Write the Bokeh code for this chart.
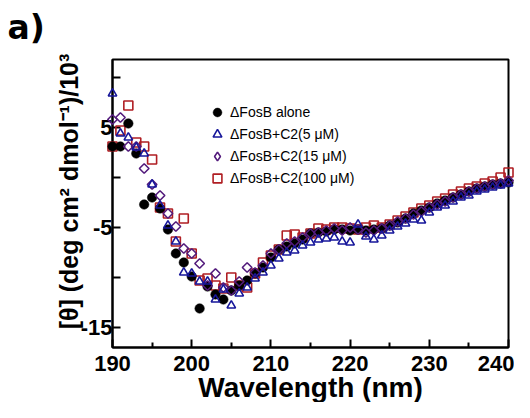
import numpy as np
from bokeh.plotting import figure
from bokeh.models import FixedTicker, Legend, LegendItem, Range1d
from bokeh.core.properties import value
from bokeh.embed import file_html
from bokeh.resources import INLINE

# ---- data (mean residue ellipticity, x10^3) ----
wavelength = list(range(190, 241))

fosb_alone = [3.1, 3.1, 5.4, 2.4, -2.7, -2.0, -3.1, -5.2, -7.6, -8.5,
              -9.9, -13.1, -10.9, -11.7, -12.2, -11.3, -10.8, -10.3, -9.6, -9.0,
              -8.0, -7.2, -6.9, -6.6, -6.2, -5.6, -5.5, -5.4, -5.2, -5.2,
              -5.3, -5.2, -5.3, -5.2, -5.1, -4.8, -4.5, -4.1, -3.6, -3.3,
              -3.0, -2.6, -2.3, -2.0, -1.7, -1.4, -1.1, -0.9, -0.7, -0.6, -0.5]

c2_5uM = [8.4, 4.4, 4.0, 3.0, 2.4, -0.7, -2.8, -4.8, -6.4, -9.5,
          -9.6, -10.4, -10.4, -12.2, -11.2, -12.8, -11.6, -11.0, -10.1, -9.5,
          -8.8, -8.1, -7.5, -7.3, -6.8, -6.5, -6.2, -6.1, -6.0, -6.4,
          -6.5, -4.7, -5.9, -6.2, -5.8, -5.3, -4.9, -4.6, -4.2, -4.3,
          -3.5, -3.0, -2.8, -2.4, -2.0, -1.8, -1.4, -1.2, -1.0, -0.8, -0.6]

c2_15uM = [5.8, 6.0, 3.1, 3.1, 0.9, -0.7, -1.8, -3.6, -4.9, -7.1,
           -7.6, -8.6, -10.8, -9.6, -11.0, -11.3, -10.4, -9.0, -9.5, -8.8,
           -7.6, -7.2, -6.6, -6.4, -6.0, -5.6, -5.5, -5.3, -5.1, -5.3,
           -5.0, -5.2, -5.5, -5.3, -5.1, -4.8, -4.4, -4.1, -3.7, -3.4,
           -3.0, -2.7, -2.4, -2.0, -1.7, -1.4, -1.1, -0.9, -0.7, -0.6, -0.3]

c2_100uM = [3.1, 4.7, 7.2, 3.5, 3.1, 1.8, -3.0, -3.6, -6.4, -4.1,
            -7.6, -10.3, -10.1, -10.8, -11.1, -10.0, -10.8, -11.0, -9.6, -8.5,
            -7.8, -7.2, -5.8, -5.7, -6.0, -5.6, -5.1, -5.2, -5.0, -5.0,
            -5.1, -5.2, -5.0, -4.8, -5.0, -4.7, -4.3, -3.9, -3.5, -3.1,
            -2.8, -2.4, -2.1, -1.7, -1.4, -1.1, -0.9, -0.6, -0.4, 0.0, 0.5]

series_labels = ["\u0394FosB alone", "\u0394FosB+C2(5 \u03bcM)",
                 "\u0394FosB+C2(15 \u03bcM)", "\u0394FosB+C2(100 \u03bcM)"]

x_ticks = [190, 200, 210, 220, 230, 240]
x_minor_ticks = [195, 205, 215, 225, 235]
y_ticks = [-15, -5, 5]
y_minor_ticks = [-10, 0, 10]
y_tick_labels = {-15: "-15", -5: "-5", 5: "5"}

x_title = "Wavelength (nm)"
y_title = "[\u03b8] (deg cm\u00b2 dmol\u207b\u00b9)/10\u00b3"
panel_tag = "a)"

BLUE = "#16169a"
PURPLE = "#531b7c"
RED = "#b01e23"
FONT = "Liberation Sans"

p = figure(width=514, height=402,
           x_range=Range1d(190, 240), y_range=Range1d(-17, 11.8),
           output_backend="svg", toolbar_location=None,
           min_border_left=112, min_border_right=6,
           min_border_top=59, min_border_bottom=55)
p.title.visible = False
p.grid.visible = False
p.background_fill_color = "white"
p.border_fill_color = "white"
p.outline_line_color = "black"
p.outline_line_width = 2
p.outline_line_alpha = 1

p.xaxis.ticker = FixedTicker(ticks=x_ticks, minor_ticks=x_minor_ticks)
p.yaxis.ticker = FixedTicker(ticks=y_ticks, minor_ticks=y_minor_ticks)
p.yaxis.major_label_overrides = y_tick_labels

for ax in (p.xaxis[0], p.yaxis[0]):
    ax.axis_line_width = 2
    ax.axis_line_color = "black"
    ax.major_tick_line_width = 2
    ax.minor_tick_line_width = 2
    ax.major_tick_line_color = "black"
    ax.minor_tick_line_color = "black"
    ax.major_tick_out = 0
    ax.minor_tick_out = 0
    ax.major_label_text_font = FONT
    ax.major_label_text_font_size = "22px"
    ax.major_label_text_font_style = "bold"
    ax.major_label_text_color = "black"

p.xaxis.major_tick_in = 8
p.xaxis.minor_tick_in = 5
p.yaxis.major_tick_in = 8
p.yaxis.minor_tick_in = 8
p.xaxis.major_label_standoff = 8
p.yaxis.major_label_standoff = 0

r_red = p.scatter(wavelength, c2_100uM, marker="square", size=9,
                  fill_color=None, line_color=RED, line_width=1.6, level="overlay")
r_black = p.scatter(wavelength, fosb_alone, marker="circle", size=9.5,
                    fill_color="black", line_color="black", line_width=0.5, level="overlay")
r_purple = p.scatter(wavelength, c2_15uM, marker="square", angle=np.pi / 4, size=6.8,
                     fill_color=None, line_color=PURPLE, line_width=1.6, level="overlay")
r_blue = p.scatter(wavelength, c2_5uM, marker="triangle", size=8.5,
                   fill_color=None, line_color=BLUE, line_width=1.6, level="overlay")
# zero-size twin of the 15 uM series: invisible in the plot, gives the key a diamond
r_purple_key = p.scatter(wavelength, c2_15uM, marker="diamond", size=0,
                         fill_color=None, line_color=PURPLE, line_width=1.6,
                         line_cap="butt", level="underlay")

legend = Legend(items=[LegendItem(label=series_labels[0], renderers=[r_black]),
                       LegendItem(label=series_labels[1], renderers=[r_blue]),
                       LegendItem(label=series_labels[2], renderers=[r_purple_key]),
                       LegendItem(label=series_labels[3], renderers=[r_red])],
                location=(92, 158), padding=0, margin=0, spacing=0,
                glyph_width=26, glyph_height=22, label_standoff=0, label_height=22,
                label_text_font=FONT, label_text_font_size="14px",
                label_text_color="black",
                border_line_alpha=0, background_fill_alpha=0)
p.add_layout(legend)

# titles as unclipped text glyphs
p.text(x=[176.74], y=[15.0], text=[panel_tag], text_font=value("DejaVu Sans"),
       text_font_style="bold", text_font_size=value("33px"), text_color="black",
       text_align="left", text_baseline="alphabetic", level="overlay")
p.text(x=[215.0], y=[-21.0], text=[x_title], text_font=value(FONT),
       text_font_style="bold", text_font_size=value("28px"), text_color="black",
       text_align="center", text_baseline="alphabetic", level="overlay")
p.text(x=[184.45], y=[-1.4], text=[y_title], angle=np.pi / 2, text_font=value(FONT),
       text_font_style="bold", text_font_size=value("25px"), text_color="black",
       text_align="center", text_baseline="alphabetic", level="overlay")

open("out.html", "w").write(file_html(p, INLINE))
